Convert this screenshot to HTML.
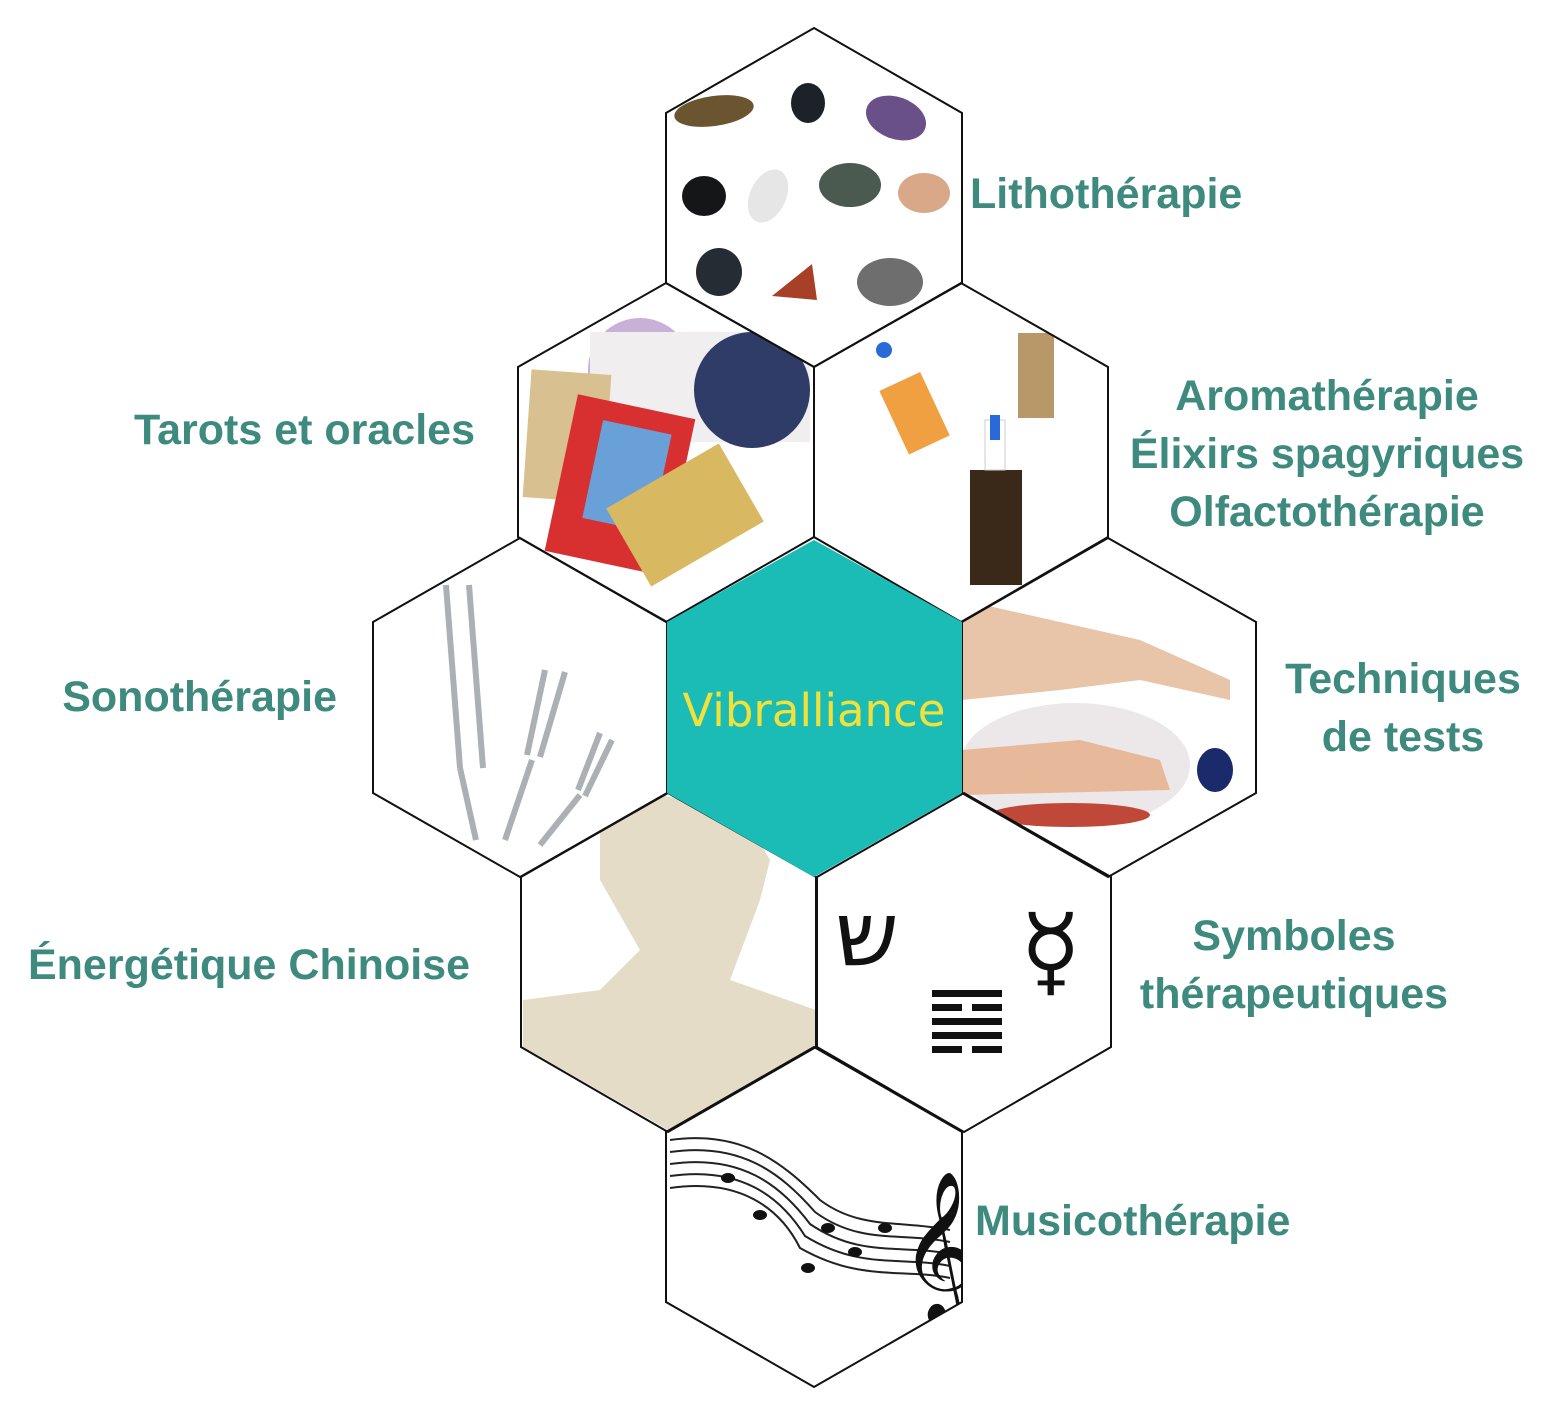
<!DOCTYPE html>
<html><head><meta charset="utf-8"><style>
body{margin:0;background:#fff}
svg{display:block}
.t{font-family:"Liberation Sans",sans-serif;font-weight:bold;fill:#3e8a7f;font-size:43px}
</style></head><body>
<svg width="1554" height="1412" viewBox="0 0 1554 1412" xmlns="http://www.w3.org/2000/svg">
<defs>
<clipPath id="c1"><polygon points="814,28 962,113 962,283 814,367 666,283 666,113"/></clipPath>
<clipPath id="c2"><polygon points="666,283 814,367 814,537 666,622 518,537 518,367"/></clipPath>
<clipPath id="c3"><polygon points="961,283 1108,367 1108,537 961,622 814,537 814,367"/></clipPath>
<clipPath id="c4"><polygon points="520,538 667,622 667,793 520,877 373,793 373,622"/></clipPath>
<clipPath id="c5"><polygon points="1108,538 1256,622 1256,793 1108,877 962,793 962,622"/></clipPath>
<clipPath id="c6"><polygon points="668,793 816,877 816,1047 668,1132 521,1047 521,877"/></clipPath>
<clipPath id="c8"><polygon points="814,1047 962,1132 962,1302 814,1387 666,1302 666,1132"/></clipPath>
</defs>
<!-- stones -->
<g clip-path="url(#c1)">
<ellipse cx="714" cy="111" rx="40" ry="15" fill="#6b5530" transform="rotate(-8 714 111)"/>
<ellipse cx="808" cy="103" rx="17" ry="20" fill="#1c2228"/>
<ellipse cx="896" cy="118" rx="31" ry="21" fill="#6a5088" transform="rotate(20 896 118)"/>
<ellipse cx="704" cy="196" rx="22" ry="20" fill="#141618"/>
<ellipse cx="768" cy="196" rx="18" ry="28" fill="#e6e6e6" transform="rotate(25 768 196)"/>
<ellipse cx="850" cy="185" rx="31" ry="22" fill="#4a5a50"/>
<ellipse cx="924" cy="193" rx="26" ry="20" fill="#d8a888"/>
<ellipse cx="719" cy="272" rx="23" ry="24" fill="#262c34"/>
<path d="M772 296 L812 264 L817 300 Z" fill="#a84028"/>
<ellipse cx="890" cy="282" rx="33" ry="24" fill="#6e6e6e"/>
</g>
<!-- tarots -->
<g clip-path="url(#c2)">
<circle cx="640" cy="370" r="52" fill="#c8b0d8"/>
<rect x="590" y="332" width="220" height="110" fill="#f0eeee"/>
<circle cx="752" cy="390" r="58" fill="#303c68"/>
<rect x="527" y="372" width="80" height="128" fill="#d8c090" transform="rotate(4 567 436)"/>
<rect x="560" y="405" width="120" height="160" fill="#d83030" transform="rotate(12 620 485)"/>
<rect x="590" y="425" width="70" height="100" fill="#6aa0d8" transform="rotate(12 620 485)"/>
<rect x="620" y="470" width="130" height="90" fill="#d8b860" transform="rotate(-30 685 515)"/>
</g>
<!-- aroma -->
<g clip-path="url(#c3)">
<rect x="892" y="378" width="45" height="70" fill="#f0a040" transform="rotate(-25 915 413)"/>
<circle cx="884" cy="350" r="8" fill="#2a6ad8"/>
<rect x="1018" y="333" width="36" height="85" fill="#b89868"/>
<rect x="970" y="470" width="52" height="115" fill="#3a2818"/>
<rect x="985" y="420" width="20" height="50" fill="#fff" stroke="#ccc"/>
<rect x="990" y="415" width="10" height="25" fill="#2a6ad8"/>
</g>
<!-- sono -->
<g stroke="#aab0b4" stroke-width="6" fill="none" clip-path="url(#c4)">
<path d="M446 585 L460 768 M469 585 L483 768 M460 768 L476 840"/>
<path d="M545 670 L527 755 M565 672 L540 757 M532 760 L505 840"/>
<path d="M600 733 L578 790 M612 740 L585 796 M580 795 L540 845"/>
</g>
<!-- techniques -->
<g clip-path="url(#c5)">
<path d="M962 600 L1140 640 L1230 680 L1230 700 L1140 680 L1060 690 L962 700 Z" fill="#e8c4a8"/>
<ellipse cx="1075" cy="765" rx="115" ry="62" fill="#ece8ea"/>
<path d="M962 750 L1080 740 L1160 760 L1170 790 L962 795 Z" fill="#e8b89a"/>
<ellipse cx="1070" cy="815" rx="80" ry="12" fill="#c04838"/>
<ellipse cx="1215" cy="770" rx="18" ry="22" fill="#1a2a6a"/>
</g>
<!-- energetic -->
<g clip-path="url(#c6)">
<path d="M523 1000 L600 990 L640 950 L600 880 L600 830 L660 795 L740 810 L770 860 L760 900 L730 980 L816 1010 L816 1047 L668 1130 L523 1047 Z" fill="#e4dcc6"/>
</g>
<!-- symbols -->
<g fill="#111">
<text x="835" y="965" font-size="90" font-family="DejaVu Sans">ש</text>
<text x="1020" y="985" font-size="100" font-family="DejaVu Sans">☿</text>
<rect x="932" y="990" width="70" height="7"/><rect x="932" y="1004" width="30" height="7"/><rect x="972" y="1004" width="30" height="7"/>
<rect x="932" y="1018" width="70" height="7"/><rect x="932" y="1032" width="70" height="7"/><rect x="932" y="1046" width="30" height="7"/><rect x="972" y="1046" width="30" height="7"/>
</g>
<!-- music -->
<g clip-path="url(#c8)">
<g fill="none" stroke="#222" stroke-width="2">
<path d="M670 1140 C740 1130 780 1160 820 1200 C860 1230 900 1220 950 1230"/>
<path d="M670 1152 C740 1142 780 1172 815 1212 C860 1245 900 1232 950 1242"/>
<path d="M670 1164 C740 1154 780 1184 810 1224 C860 1258 900 1244 950 1254"/>
<path d="M670 1176 C740 1166 780 1196 805 1236 C860 1270 900 1256 950 1266"/>
<path d="M670 1188 C740 1178 780 1208 800 1248 C860 1282 900 1268 950 1278"/>
</g>
<g fill="#111">
<ellipse cx="728" cy="1178" rx="7" ry="5"/><ellipse cx="760" cy="1215" rx="7" ry="5"/>
<ellipse cx="828" cy="1228" rx="7" ry="5"/><ellipse cx="855" cy="1252" rx="7" ry="5"/>
<ellipse cx="808" cy="1268" rx="7" ry="5"/><ellipse cx="885" cy="1228" rx="7" ry="5"/>
</g>
<text x="900" y="1290" font-size="130" font-family="DejaVu Sans" fill="#111">𝄞</text>
</g>
<!-- hexagons -->
<g fill="none" stroke="#111" stroke-width="2">
<polygon points="814,28 962,113 962,283 814,367 666,283 666,113"/>
<polygon points="666,283 814,367 814,537 666,622 518,537 518,367"/>
<polygon points="961,283 1108,367 1108,537 961,622 814,537 814,367"/>
<polygon points="520,538 667,622 667,793 520,877 373,793 373,622"/>
<polygon points="1108,538 1256,622 1256,793 1108,877 962,793 962,622"/>
<polygon points="668,793 816,877 816,1047 668,1132 521,1047 521,877"/>
<polygon points="964,793 1111,877 1111,1047 964,1132 817,1047 817,877"/>
<polygon points="814,1047 962,1132 962,1302 814,1387 666,1302 666,1132"/>
</g>
<polygon points="814,540 962,622 962,793 814,877 667,793 667,622" fill="#1cbcb6"/>
<text x="814" y="726" text-anchor="middle" font-family="DejaVu Sans" font-size="45" fill="#f2e13a">Vibralliance</text>
<!-- labels -->
<text class="t" x="970" y="208">Lithothérapie</text>
<text class="t" x="475" y="444" text-anchor="end">Tarots et oracles</text>
<text class="t" x="1327" y="410" text-anchor="middle">Aromathérapie</text>
<text class="t" x="1327" y="468" text-anchor="middle">Élixirs spagyriques</text>
<text class="t" x="1327" y="526" text-anchor="middle">Olfactothérapie</text>
<text class="t" x="337" y="711" text-anchor="end">Sonothérapie</text>
<text class="t" x="1403" y="693" text-anchor="middle">Techniques</text>
<text class="t" x="1403" y="751" text-anchor="middle">de tests</text>
<text class="t" x="470" y="979" text-anchor="end">Énergétique Chinoise</text>
<text class="t" x="1294" y="950" text-anchor="middle">Symboles</text>
<text class="t" x="1294" y="1008" text-anchor="middle">thérapeutiques</text>
<text class="t" x="975" y="1235">Musicothérapie</text>
</svg>
</body></html>
